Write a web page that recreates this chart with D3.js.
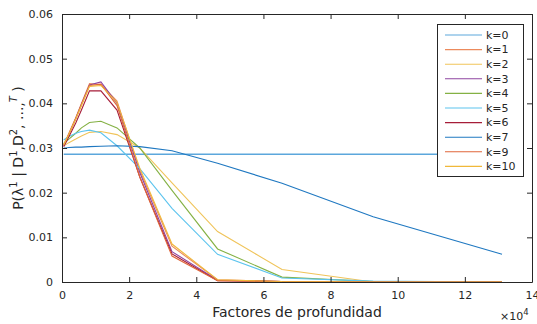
<!DOCTYPE html>
<html>
<head>
<meta charset="utf-8">
<script src="https://cdn.jsdelivr.net/npm/d3@7"></script>
<style>
  html, body { margin: 0; padding: 0; background: #fff; }
  svg text { font-family: "DejaVu Sans", sans-serif; fill: #262626; }
</style>
</head>
<body>
<svg id="chart" width="537" height="324"></svg>
<script>
// Depth factors (x values), sqrt(2) steps
const depths = [512, 1024, 2048, 4096, 5793, 8192, 11585, 16384, 23170, 32768, 46341, 65536, 92682, 131072];

// Posterior probability for each k
const k0  = [0.0286, 0.0286, 0.0286, 0.0286, 0.0286, 0.0286, 0.0286, 0.0286, 0.0286, 0.0286, 0.0286, 0.0286, 0.0286, 0.0286];
const k1  = [0.0308, 0.0316, 0.0333, 0.0368, 0.0400, 0.0444, 0.0442, 0.0405, 0.0250, 0.0080, 0.0005, 0.0001, 0.0000, 0.0000];
const k2  = [0.0305, 0.0307, 0.0312, 0.0320, 0.0327, 0.0335, 0.0337, 0.0330, 0.0300, 0.0222, 0.0113, 0.0028, 0.0000, 0.0000];
const k3  = [0.0305, 0.0313, 0.0330, 0.0366, 0.0398, 0.0441, 0.0448, 0.0400, 0.0245, 0.0068, 0.0004, 0.0001, 0.0000, 0.0000];
const k4  = [0.0310, 0.0313, 0.0320, 0.0333, 0.0345, 0.0357, 0.0360, 0.0345, 0.0300, 0.0205, 0.0074, 0.0011, 0.0001, 0.0000];
const k5  = [0.0318, 0.0321, 0.0326, 0.0333, 0.0337, 0.0340, 0.0334, 0.0305, 0.0254, 0.0165, 0.0062, 0.0009, 0.0002, 0.0000];
const k6  = [0.0303, 0.0310, 0.0325, 0.0356, 0.0385, 0.0428, 0.0428, 0.0385, 0.0235, 0.0063, 0.0003, 0.0001, 0.0000, 0.0000];
const k7  = [0.0300, 0.0300, 0.0301, 0.0302, 0.0302, 0.0303, 0.0304, 0.0305, 0.0303, 0.0294, 0.0266, 0.0221, 0.0146, 0.0062];
const k9  = [0.0306, 0.0314, 0.0331, 0.0366, 0.0397, 0.0440, 0.0443, 0.0395, 0.0235, 0.0058, 0.0003, 0.0001, 0.0000, 0.0000];
const k10 = [0.0307, 0.0315, 0.0331, 0.0365, 0.0395, 0.0438, 0.0440, 0.0402, 0.0255, 0.0085, 0.0005, 0.0001, 0.0000, 0.0000];

const seriesNames = ["k=0", "k=1", "k=2", "k=3", "k=4", "k=5", "k=6", "k=7", "k=9", "k=10"];
const seriesValues = [k0, k1, k2, k3, k4, k5, k6, k7, k9, k10];
const seriesColors = ["#5ca7dc", "#ec8a5c", "#f0c45a", "#8e44a0", "#84b144", "#5cc4ee", "#a61d38", "#1f78c1", "#e0663a", "#f0b83a"];

const xTicks = [0, 20000, 40000, 60000, 80000, 100000, 120000, 140000];
const yTicks = [0, 0.01, 0.02, 0.03, 0.04, 0.05, 0.06];

const svg = d3.select("#chart");
const m = { left: 62, right: 532, top: 14, bottom: 282 };

const x = d3.scaleLinear().domain([0, 140000]).range([m.left, m.right]);
const y = d3.scaleLinear().domain([0, 0.06]).range([m.bottom, m.top]);

// Lines
const line = d3.line().x((d, i) => x(depths[i])).y(d => y(d));
const plot = svg.append("g");
seriesValues.forEach((vals, i) => {
  plot.append("path")
    .datum(vals)
    .attr("fill", "none")
    .attr("stroke", seriesColors[i])
    .attr("stroke-width", i === 0 ? 1.5 : 1.1)
    .attr("d", line);
});

// Box axes with inward ticks
function styleAxis(g) {
  g.select(".domain").attr("stroke", "#262626");
  g.selectAll(".tick line").attr("stroke", "#262626");
  g.selectAll(".tick text").style("font-size", "11px").attr("fill", "#262626");
}
svg.append("g").attr("transform", `translate(0,${m.bottom})`)
  .call(d3.axisBottom(x).tickValues(xTicks).tickSize(-5).tickSizeOuter(0).tickPadding(9).tickFormat(d => d / 10000))
  .call(styleAxis);
svg.append("g").attr("transform", `translate(0,${m.top})`)
  .call(d3.axisTop(x).tickValues(xTicks).tickSize(-5).tickSizeOuter(0).tickFormat(""))
  .call(styleAxis);
svg.append("g").attr("transform", `translate(${m.left},0)`)
  .call(d3.axisLeft(y).tickValues(yTicks).tickSize(-5).tickSizeOuter(0).tickPadding(9).tickFormat(d => d === 0 ? "0" : d3.format(".2f")(d)))
  .call(styleAxis);
svg.append("g").attr("transform", `translate(${m.right},0)`)
  .call(d3.axisRight(y).tickValues(yTicks).tickSize(-5).tickSizeOuter(0).tickFormat(""))
  .call(styleAxis);

// Axis titles
svg.append("text")
  .attr("x", 297).attr("y", 317)
  .attr("text-anchor", "middle").style("font-size", "14px")
  .text("Factores de profundidad");

const ex = svg.append("text").attr("x", 500).attr("y", 320).style("font-size", "11px");
ex.append("tspan").text("×10");
ex.append("tspan").attr("dy", -5).style("font-size", "8.5px").text("4");

const yl = svg.append("text")
  .attr("transform", "translate(23,148) rotate(-90)")
  .attr("text-anchor", "middle").style("font-size", "14px");
yl.append("tspan").text("P(λ");
yl.append("tspan").attr("dy", -6).style("font-size", "10px").text("1");
yl.append("tspan").attr("dy", 6).text(" | D");
yl.append("tspan").attr("dy", -6).style("font-size", "10px").text("1");
yl.append("tspan").attr("dy", 6).text(",D");
yl.append("tspan").attr("dy", -6).style("font-size", "10px").text("2");
yl.append("tspan").attr("dy", 6).text(", ...,");
yl.append("tspan").attr("dy", -6).style("font-size", "10px").style("font-style", "italic").text("T");
yl.append("tspan").attr("dy", 6).text(" )");

// Legend
const lg = svg.append("g");
lg.append("rect").attr("x", 437.5).attr("y", 24.5).attr("width", 86).attr("height", 152)
  .attr("fill", "#fff").attr("stroke", "#262626").attr("stroke-width", 1);
seriesNames.forEach((name, i) => {
  const yy = 35 + i * 14.6;
  lg.append("line").attr("x1", 445).attr("x2", 482).attr("y1", yy).attr("y2", yy)
    .attr("stroke", seriesColors[i]).attr("stroke-width", 1.1);
  lg.append("text").attr("x", 486).attr("y", yy).attr("dy", "0.35em")
    .style("font-size", "11px").text(name);
});
</script>
</body>
</html>
